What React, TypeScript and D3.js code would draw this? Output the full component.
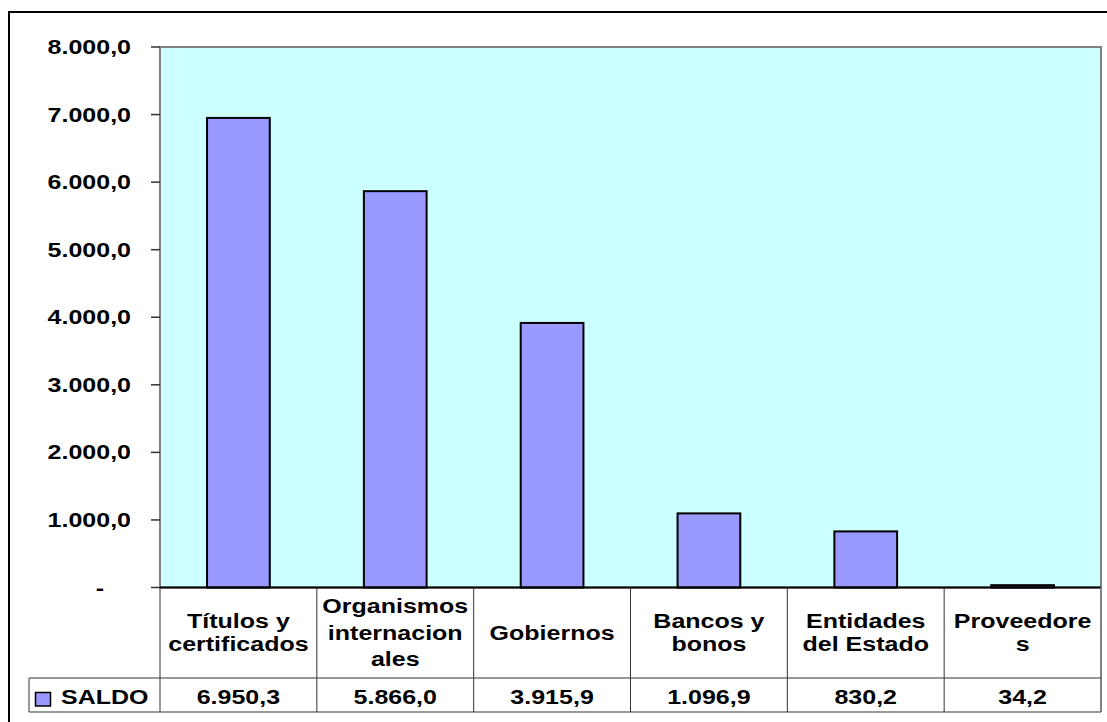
import React from "react";
import * as d3 from "d3";

const categories = [
  "Títulos y certificados",
  "Organismos internacionales",
  "Gobiernos",
  "Bancos y bonos",
  "Entidades del Estado",
  "Proveedores",
];
const categoryLines = [
  ["Títulos y", "certificados"],
  ["Organismos", "internacion", "ales"],
  ["Gobiernos"],
  ["Bancos y", "bonos"],
  ["Entidades", "del Estado"],
  ["Proveedore", "s"],
];
const saldo = [6950.3, 5866.0, 3915.9, 1096.9, 830.2, 34.2];
const saldoLabels = ["6.950,3", "5.866,0", "3.915,9", "1.096,9", "830,2", "34,2"];
const seriesName = "SALDO";
const yTicks = [0, 1000, 2000, 3000, 4000, 5000, 6000, 7000, 8000];
const yTickLabels = ["-", "1.000,0", "2.000,0", "3.000,0", "4.000,0", "5.000,0", "6.000,0", "7.000,0", "8.000,0"];

const W = 1107;
const H = 722;
const plotL = 160;
const plotR = 1101;
const plotT = 47;
const plotB = 587.5;
const catRowB = 678;
const valRowB = 712;
const legendL = 29;

const FS = 20.5;
const SX = 1.22;
const FONT = "'Liberation Sans', Arial, sans-serif";

function T({ x, y, anchor = "middle", children }: any) {
  return (
    <text
      transform={`translate(${x},${y}) scale(${SX},1)`}
      textAnchor={anchor}
      fontFamily={FONT}
      fontWeight="bold"
      fontSize={FS}
      fill="#000"
    >
      {children}
    </text>
  );
}

export default function App() {
  const x = d3.scaleBand<string>().domain(categories).range([plotL, plotR]).paddingInner(0).paddingOuter(0);
  const y = d3.scaleLinear().domain([0, 8000]).range([plotB, plotT]);
  const bw = x.bandwidth();
  const barW = bw * 0.4;

  return (
    <svg
      width={W}
      height={H}
      style={{ position: "absolute", left: 0, top: 0, background: "#fff" }}
    >
      {/* outer frame */}
      <rect x={9} y={12} width={W + 20} height={H + 20} fill="#fff" stroke="#000" strokeWidth={2} />

      {/* plot area */}
      <rect x={plotL} y={plotT} width={plotR - plotL} height={plotB - plotT} fill="#CCFFFF" stroke="#808080" strokeWidth={2} />

      {/* bars */}
      {categories.map((c, i) => (
        <rect
          key={c}
          x={(x(c) as number) + (bw - barW) / 2}
          y={y(saldo[i])}
          width={barW}
          height={Math.max(0, plotB - y(saldo[i]))}
          fill="#9999FF"
          stroke="#000"
          strokeWidth={2}
        />
      ))}

      {/* baseline */}
      <line x1={plotL} x2={plotR} y1={plotB} y2={plotB} stroke="#000" strokeWidth={2} />

      {/* y ticks */}
      {yTicks.map((t, i) => (
        <g key={t}>
          <line x1={151} x2={plotL} y1={y(t)} y2={y(t)} stroke="#333" strokeWidth={1.5} />
          <T x={yTickLabels[i] === "-" ? 104 : 131} y={y(t) + 7} anchor="end">
            {yTickLabels[i]}
          </T>
        </g>
      ))}

      {/* data table lines */}
      {d3.range(categories.length + 1).map((k) => (
        <line
          key={k}
          x1={plotL + k * bw}
          x2={plotL + k * bw}
          y1={plotB}
          y2={valRowB}
          stroke={k === categories.length ? "#808080" : "#333"}
          strokeWidth={k === categories.length ? 2 : 1}
        />
      ))}
      <line x1={legendL} x2={legendL} y1={catRowB} y2={valRowB} stroke="#333" strokeWidth={1} />
      <line x1={legendL} x2={plotR} y1={catRowB} y2={catRowB} stroke="#333" strokeWidth={1} />
      <line x1={legendL} x2={plotR} y1={valRowB} y2={valRowB} stroke="#333" strokeWidth={1} />

      {/* category labels */}
      {categories.map((c, i) => {
        const lines = categoryLines[i];
        const lh = lines.length === 3 ? 26.5 : 23;
        const cx = (x(c) as number) + bw / 2;
        const cy = (plotB + catRowB) / 2;
        const y0 = cy - ((lines.length - 1) * lh) / 2 + 7;
        return (
          <g key={c}>
            {lines.map((ln, j) => (
              <T key={j} x={cx} y={y0 + j * lh}>
                {ln}
              </T>
            ))}
          </g>
        );
      })}

      {/* values row */}
      {categories.map((c, i) => (
        <T key={c} x={(x(c) as number) + bw / 2} y={704}>
          {saldoLabels[i]}
        </T>
      ))}

      {/* legend key */}
      <rect x={35.5} y={692.5} width={15} height={13.5} fill="#9999FF" stroke="#000" strokeWidth={1.5} />
      <T x={61} y={704} anchor="start">
        {seriesName}
      </T>
    </svg>
  );
}
